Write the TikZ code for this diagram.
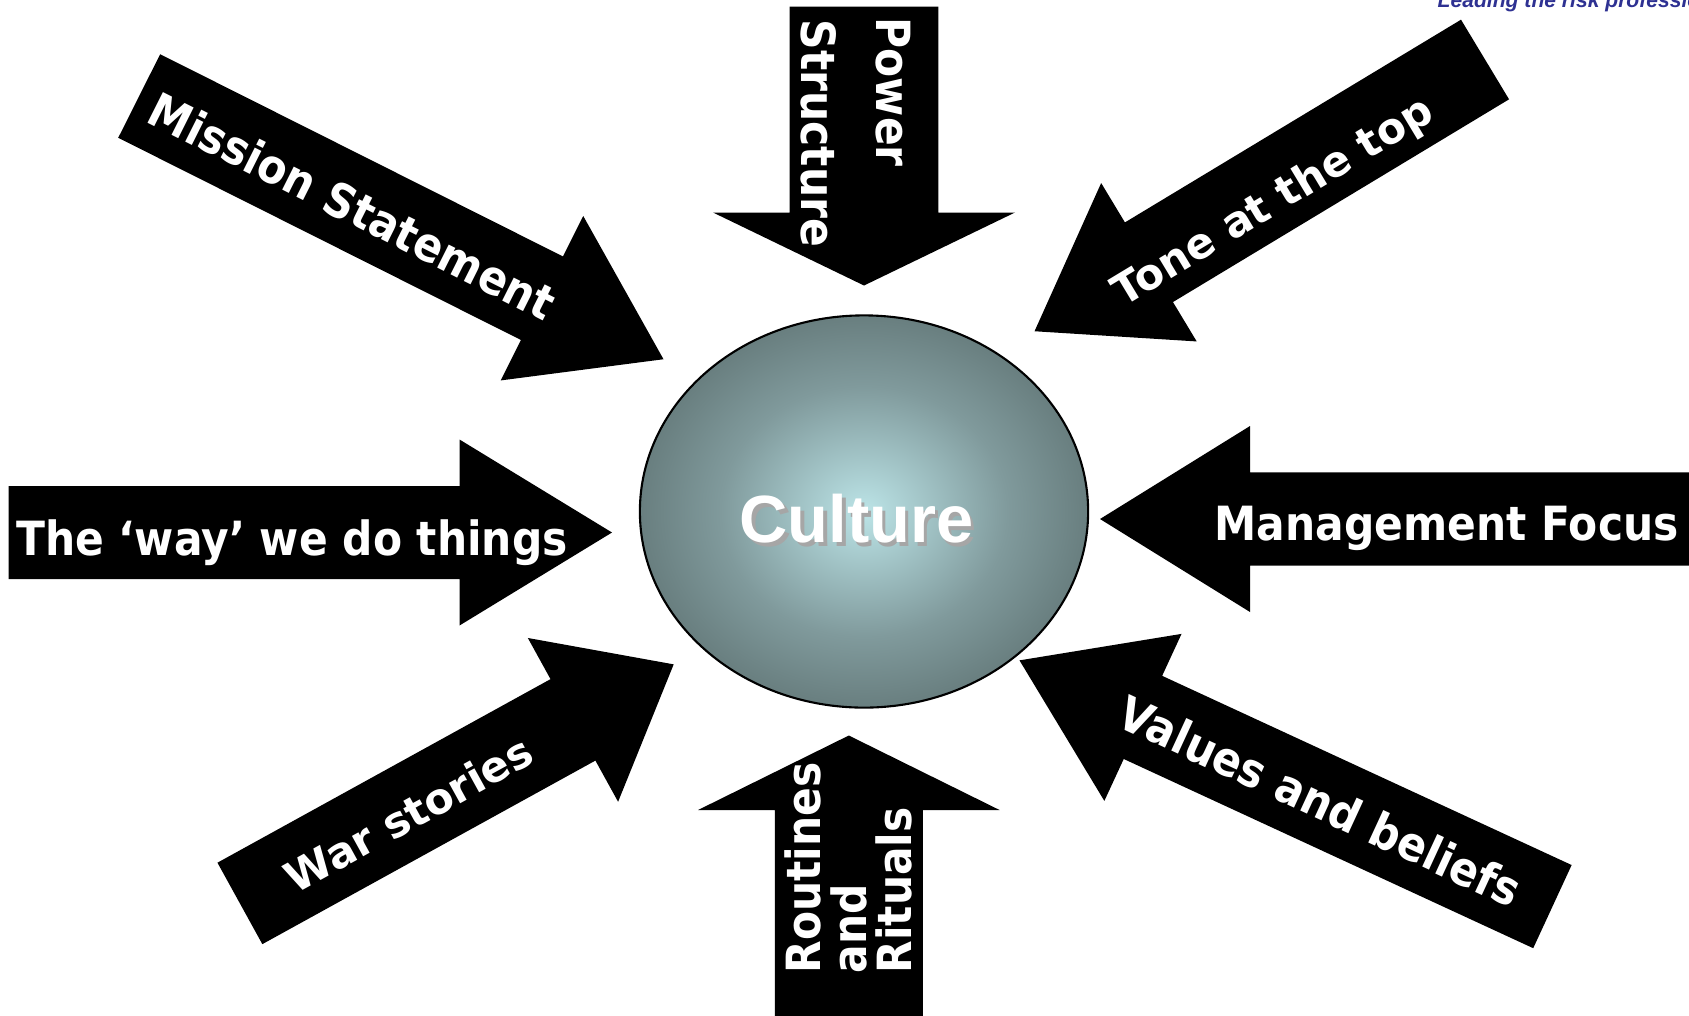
\documentclass[tikz,border=0pt]{standalone}
\usepackage{fontspec}
\usetikzlibrary{shapes.geometric}

\newfontfamily\labelfont[FakeStretch=0.9]{DejaVu Sans}
\newfontfamily\widefont{DejaVu Sans}
\newfontfamily\headfont{Liberation Sans}

\definecolor{spherelight}{RGB}{188,228,231}
\definecolor{spheremid}{RGB}{128,154,156}
\definecolor{spheredark}{RGB}{89,108,108}
\definecolor{mottoblue}{RGB}{46,49,146}
\pgfdeclareradialshading{culturesphere}{\pgfpoint{0bp}{0bp}}{%
  color(0bp)=(spherelight); color(16bp)=(spheremid);
  color(31bp)=(spheredark); color(50bp)=(spheredark)}

\tikzset{
  blockarrow/.style={fill=black},
  arrowlabel/.style={text=white, inner sep=0pt,
    font=\labelfont\bfseries\fontsize{13.4pt}{16pt}\selectfont},
  widelabel/.style={arrowlabel,
    font=\widefont\bfseries\fontsize{12.1pt}{15pt}\selectfont},
  culturetext/.style={anchor=base, inner sep=0pt,
    font=\headfont\bfseries\fontsize{19pt}{22pt}\selectfont}
}

\begin{document}
\begin{tikzpicture}[x=0.01cm, y=-0.01cm]
  \useasboundingbox (0,0) rectangle (1689,1015);

  % block arrows: tail (x,y), angle, length, shaft, head width, head length
  \foreach \x/\y/\a/\len/\sw/\hw/\hl in {
      8.7/532.5/0/603.3/93/186/152.5,
      1692/519/180/592/93.4/186/150,
      864/6.5/-90/279/148.8/302/73,
      848.8/1018/90/282.5/148/301.5/74.5,
      139.2/96/-26.66/586.7/93.5/184/136,
      1485/59.5/-148.9/526.1/93/185/133.6,
      1552.4/906.6/155.2/587.1/91.6/184/136,
      239.9/903.4/28.86/495.3/93/187/115}
    \fill[blockarrow, shift={(\x,\y)}, rotate=\a]
      (0,-\sw/2) -- (\len-\hl,-\sw/2) -- (\len-\hl,-\hw/2) -- (\len,0)
      -- (\len-\hl,\hw/2) -- (\len-\hl,\sw/2) -- (0,\sw/2) -- cycle;

  % the sphere in the middle
  \node[ellipse, draw=black, line width=0.6pt, shade, shading=culturesphere,
    minimum width=4.48cm, minimum height=3.92cm, inner sep=0pt]
    (culture) at (864,511.5) {};
  \node[culturetext, text=black!35] (cultureshadow) at (860,546) {Culture};
  \node[culturetext, text=white] (culturelabel) at (856.5,542.7) {Culture};

  % labels on the arrows
  \node[arrowlabel, anchor=base west] (waylabel) at (15.5,555) {The ‘way’ we do things};
  \node[arrowlabel, anchor=base west] (focuslabel) at (1214,540.7) {Management Focus};
  \node[arrowlabel, anchor=base, rotate=-26.66] (missionlabel) at (345,221.6) {Mission Statement};
  \node[widelabel, anchor=base, rotate=31.1] (tonelabel) at (1280,213) {Tone at the top};
  \node[arrowlabel, anchor=base, rotate=-24.8] (valueslabel) at (1312.9,816.8) {Values and beliefs};
  \node[widelabel, anchor=base, rotate=28.86] (warlabel) at (416.1,828) {War stories};

  \node[arrowlabel, anchor=base west, rotate=-90] (powerlabel) at (876.7,17) {Power};
  \node[arrowlabel, anchor=base west, rotate=-90] (structurelabel) at (801.7,19) {Structure};
  \node[arrowlabel, anchor=base west, rotate=90] (routineslabel) at (820,974) {Routines};
  \node[arrowlabel, anchor=base west, rotate=90] (andlabel) at (866.7,974) {and};
  \node[arrowlabel, anchor=base west, rotate=90] (ritualslabel) at (911.7,974) {Rituals};

  % motto in the corner
  \node[anchor=base west, inner sep=0pt, text=mottoblue,
    font=\headfont\bfseries\itshape\fontsize{6pt}{7pt}\selectfont]
    (motto) at (1437,7.5) {Leading the risk profession};
\end{tikzpicture}
\end{document}
